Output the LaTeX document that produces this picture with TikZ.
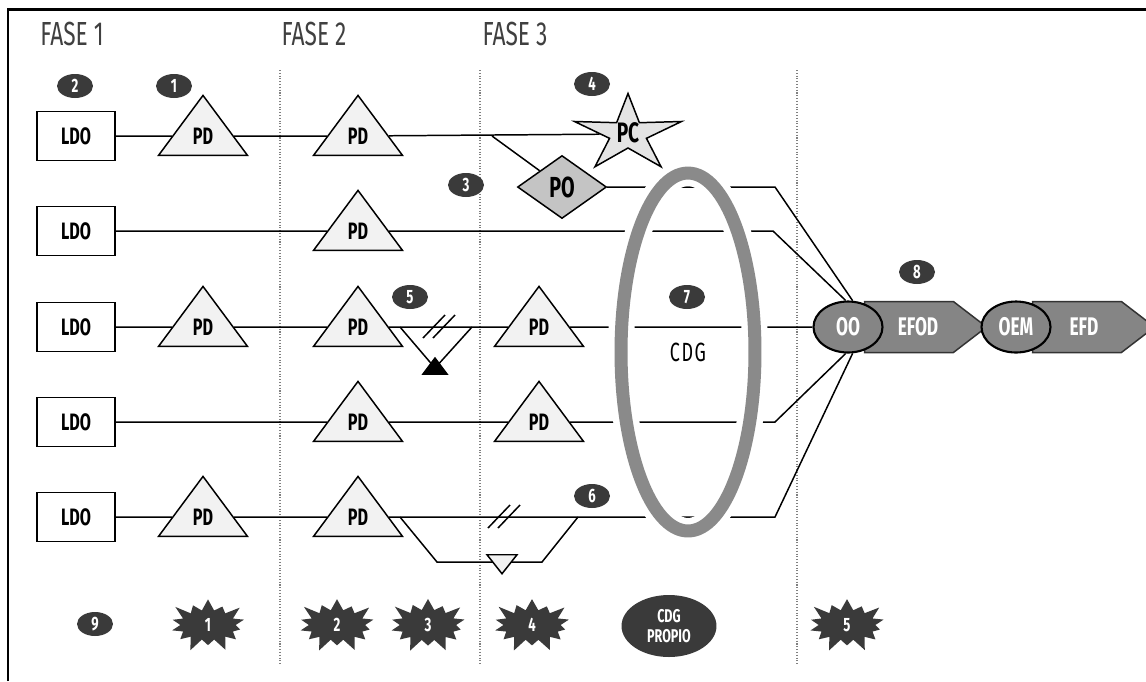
\documentclass[tikz,border=0pt]{standalone}
\usepackage{fontspec}
\setmainfont{Fira Sans}
\newfontfamily\cond{Fira Sans}[FakeStretch=0.68]
\usetikzlibrary{shapes.geometric,shapes.symbols}

\definecolor{darkfill}{HTML}{3A3A3A}
\definecolor{trifill}{HTML}{F2F2F2}
\definecolor{pofill}{HTML}{C4C4C4}
\definecolor{pcfill}{HTML}{E4E4E4}
\definecolor{ringgray}{HTML}{8A8A8A}
\definecolor{oofill}{HTML}{858585}

\begin{document}
\begin{tikzpicture}[x=0.02cm, y=-0.02cm, line width=0.85pt]
	\tikzstyle{ldo} = [ draw, rectangle, minimum width=1.56cm, minimum height=0.98cm, inner sep=0, font={\cond\bfseries\fontsize{13.5}{13.5}\selectfont} ];
	\tikzstyle{pd} = [ draw, fill=trifill, isosceles triangle, isosceles triangle stretches, shape border rotate=90, minimum width=1.78cm, minimum height=1.2cm, inner sep=0, font={\cond\bfseries\fontsize{13.5}{13.5}\selectfont} ];
	\tikzstyle{num} = [ ellipse, fill=darkfill, text=white, minimum width=0.72cm, minimum height=0.48cm, inner sep=0, font={\cond\bfseries\fontsize{11}{11}\selectfont} ];
	\tikzstyle{burst} = [ starburst, fill=darkfill, text=white, starburst points=14, starburst point height=0.3cm, inner xsep=0.33cm, inner ysep=0.08cm, font={\cond\bfseries\fontsize{11}{11}\selectfont} ];
	\tikzstyle{fase} = [ text=black!75, font={\cond\fontsize{19}{19}\selectfont} ];
	\tikzstyle{oval} = [ ellipse, draw, fill=oofill, text=white, line width=1.2pt, minimum width=1.38cm, minimum height=1.02cm, inner sep=0, font={\cond\bfseries\fontsize{14.5}{14.5}\selectfont} ];
	\tikzstyle{arrowbox} = [ signal, signal to=east, signal pointer angle=75, draw=black!80, fill=oofill, minimum width=2.44cm, minimum height=1.02cm, inner sep=0 ];
	\tikzstyle{wtext} = [ text=white, font={\cond\bfseries\fontsize{14.5}{14.5}\selectfont} ];
	\tikzstyle{phase} = [ densely dotted, gray, line width=0.6pt ];
	\tikzstyle{brk} = [ line width=0.85pt ];

	\useasboundingbox (0,0) rectangle (1146,681);
	\draw[line width=1.2pt] (8,681) -- (8,9.5) -- (1146,9.5);

	% phases
	\foreach \n/\x in {1/72,2/314,3/515} {
		\node[fase] (fase\n) at (\x,34) {FASE \n};
	}
	\foreach \x in {280,480,797} {
		\draw[phase] (\x,70) -- (\x,665);
	}

	% sources and points of delivery
	\foreach \y [count=\r] in {136,231,327,422,517} {
		\node[ldo] (ldo\r) at (76,\y) {LDO};
		\node[pd] (pd\r2) at (358,\y) {PD};
	}
	\foreach \r/\y in {1/136,3/327,5/517} {
		\node[pd] (pd\r1) at (203,\y) {PD};
	}
	\foreach \r/\y in {3/327,4/422} {
		\node[pd] (pd\r3) at (539,\y) {PD};
	}

	\node[star, star points=5, star point ratio=2.9, minimum size=2.25cm, inner sep=0, draw, fill=pcfill, yscale=0.72, transform shape] (pc) at (628,134) {};
	\node[font={\cond\bfseries\fontsize{16}{16}\selectfont}] (pctxt) at (628,133) {PC};
	\node[diamond, draw, fill=pofill, minimum width=1.78cm, minimum height=1.26cm, inner sep=0, font={\cond\bfseries\fontsize{16.5}{16.5}\selectfont}] (po) at (562,187) {PO};

	\node[arrowbox] (efod) at (909,327) {};
	\node[oval] (oo) at (848,327) {OO};
	\node[wtext] (efodtxt) at (918,327) {EFOD};
	\node[arrowbox] (efd) at (1077,327) {};
	\node[oval] (oem) at (1016,327) {OEM};
	\node[wtext] (efdtxt) at (1084,327) {EFD};

	\coordinate (br1) at (492,136);
	\coordinate (bend1) at (775,187);
	\coordinate (bend2) at (773,231);
	\coordinate (bend4) at (775,422);
	\coordinate (bend5) at (775,517);
	\coordinate (v3a) at (400,327);
	\coordinate (v3c) at (472,327);
	\coordinate (v5a) at (400,517);
	\coordinate (v5b) at (437,562);
	\coordinate (v5c) at (542,562);
	\coordinate (v5d) at (578,517);

	% flows
	\draw (ldo1) -- (pd11) -- (pd12) -- (pc);
	\draw (br1) -- (po);
	\draw (po) -- (bend1) -- (oo.80);
	\draw (ldo2) -- (pd22) -- (bend2) -- (oo.95);
	\draw (ldo3) -- (pd31) -- (pd32) -- (pd33) -- (oo);
	\draw (ldo4) -- (pd42) -- (pd43) -- (bend4) -- (oo.-95);
	\draw (ldo5) -- (pd51) -- (pd52) -- (bend5) -- (oo.-80);

	% losses
	\node[isosceles triangle, isosceles triangle stretches, shape border rotate=90, fill=black, minimum width=0.54cm, minimum height=0.36cm, inner sep=0] (tip5) at (435,368) {};
	\draw (v3a) -- (tip5.center) -- (v3c);
	\draw (v5a) -- (v5b) -- (v5c) -- (v5d);
	\node[isosceles triangle, isosceles triangle stretches, shape border rotate=-90, draw, fill=trifill, minimum width=0.6cm, minimum height=0.38cm, inner sep=0] (tip6) at (502,562) {};
	\foreach \x/\y in {423/327,488/517} {
		\draw[brk] (\x,\y+11) -- ++(22,-23);
		\draw[brk] (\x+10,\y+11) -- ++(22,-23);
	}

	% common delivery ring
	\node[ellipse, draw=ringgray, line width=0.26cm, preaction={draw=white, line width=0.52cm}, minimum width=2.68cm, minimum height=7.16cm, inner sep=0, font={\cond\fontsize{15}{15}\selectfont\addfontfeature{LetterSpace=6}}] (cdg) at (688,352) {CDG};

	% markers
	\foreach \n/\x/\y in {2/75/86,1/174/86,4/592/84,3/466/185,5/410/297,7/687/297,6/592/496,8/917/272,9/95/624} {
		\node[num] (n\n) at (\x,\y) {\n};
	}
	\foreach \bnum/\bpos in {1/208,2/337,3/428,4/532,5/847} {
		\node[burst] (b\bnum) at (\bpos,625) {\bnum};
	}
	\node[ellipse, fill=darkfill, text=white, minimum width=1.9cm, minimum height=1.24cm, inner sep=0, align=center, font={\cond\bfseries\fontsize{10.5}{11}\selectfont}] (propio) at (669,626) {CDG\\PROPIO};
\end{tikzpicture}
\end{document}
